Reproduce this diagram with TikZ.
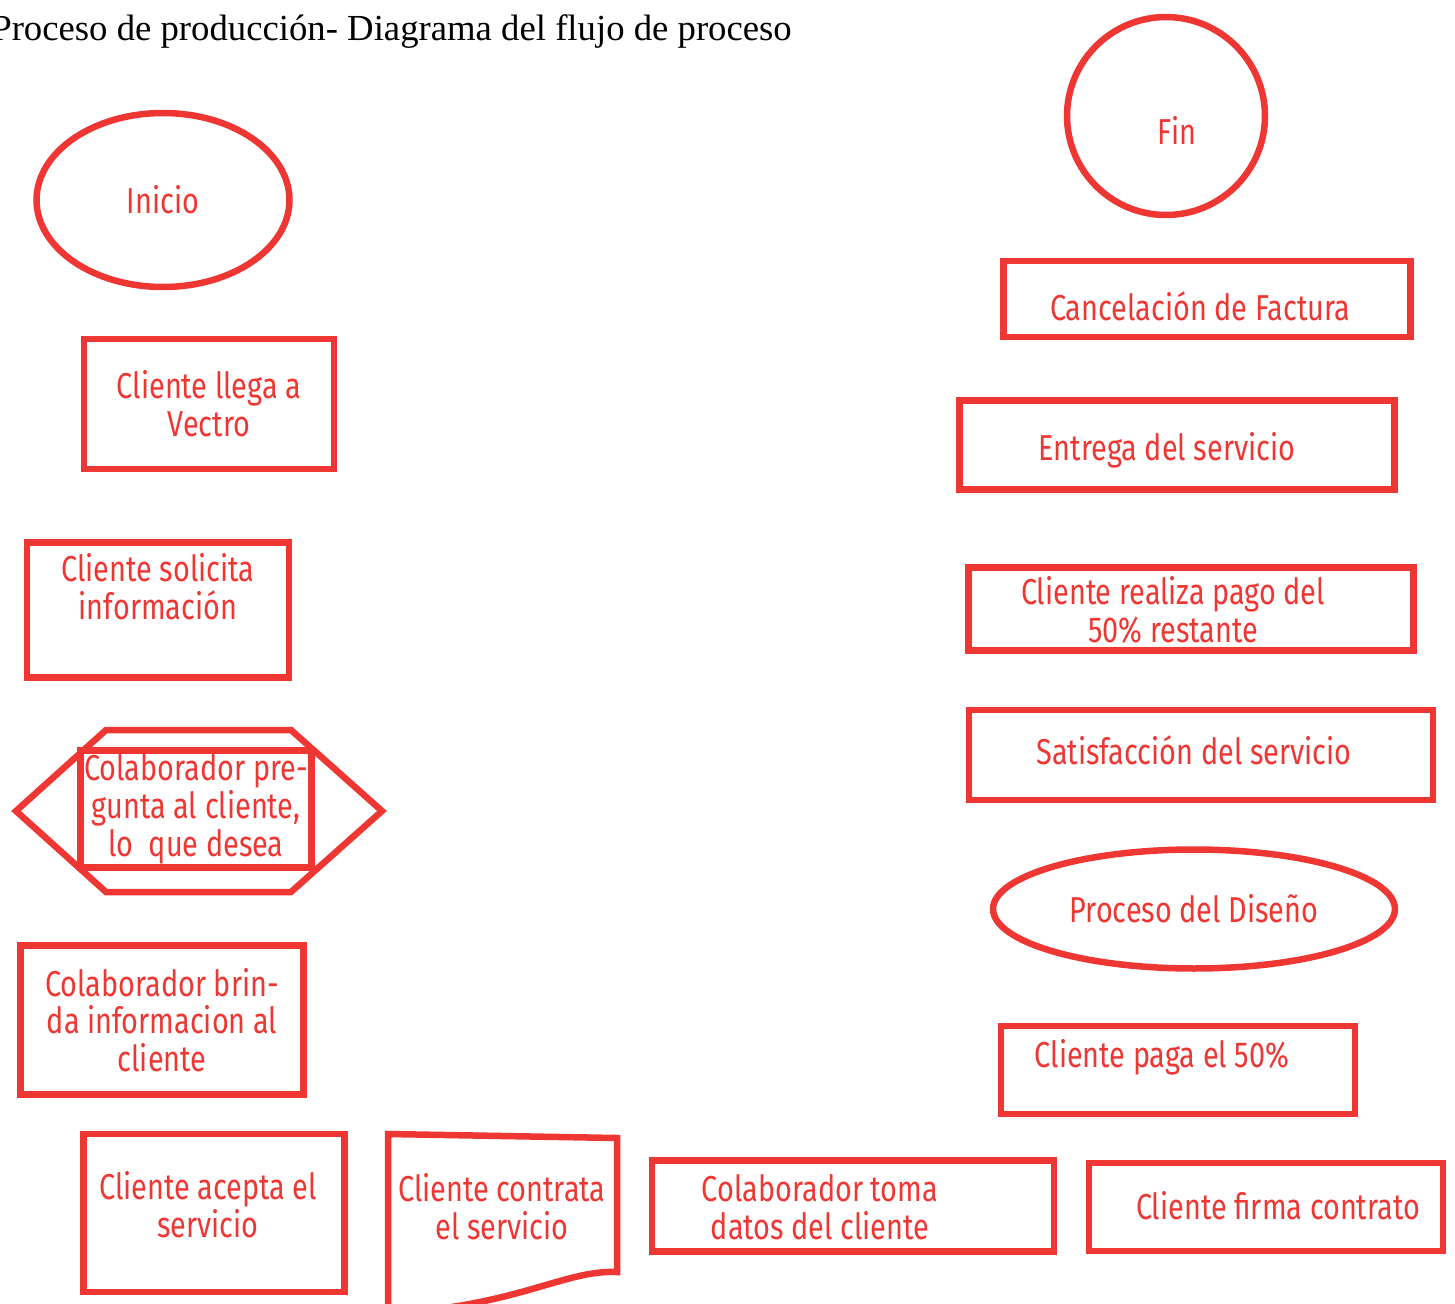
\documentclass[tikz,border=0pt]{standalone}
\usepackage{fontspec}
\setmainfont{Liberation Serif}
\newfontfamily\handfont[FakeStretch=0.8]{Fira Sans}
\usetikzlibrary{shapes.geometric,positioning}
\definecolor{vred}{RGB}{238,54,50}

\begin{document}
\begin{tikzpicture}[x=0.02cm,y=-0.02cm,
  box/.style={draw=vred, line width=0.13cm, align=center, text=vred, inner sep=2pt,
    font=\handfont\fontsize{20.5}{21.5}\selectfont},
  txt/.style={align=center, text=vred, inner sep=0pt,
    font=\handfont\fontsize{20.5}{21.5}\selectfont}]
  \useasboundingbox (0,0) rectangle (1455,1303);
  % Title
  \node[anchor=base west, inner sep=0pt, font=\fontsize{20.9}{24}\selectfont] (titulo) at (-9,40) {Proceso de producción- Diagrama del flujo de proceso};
  % Left column
  \node[box, ellipse, minimum width=5.06cm, minimum height=3.48cm] (inicio) at (163,200) {Inicio};
  \node[box, minimum width=5.0cm, minimum height=2.6cm] (llega) at (209,404) {Cliente llega a\\Vectro};
  \node[box, minimum width=5.24cm, minimum height=2.7cm] (solicita) at (158,610) {};
  \node[txt] (solicita-t) at (158,587) {Cliente solicita\\información};
  \draw[vred, line width=0.13cm, line join=miter] (106,730) -- (291,730) -- (382,811) -- (291,892) -- (106,892) -- (16,811) -- cycle;
  \node[box, minimum width=4.52cm, minimum height=2.32cm] (pregunta) at (196,809) {Colaborador pre-\\gunta al cliente,\\lo\ \ que desea};
  \node[box, minimum width=5.66cm, minimum height=2.98cm] (brinda) at (162,1020) {Colaborador brin-\\da informacion al\\cliente};
  % Bottom row
  \node[box, minimum width=5.22cm, minimum height=3.16cm] (acepta) at (214,1213) {};
  \node[txt] (acepta-t) at (208,1205) {Cliente acepta el\\servicio};
  \draw[vred, line width=0.13cm] (388,1310) -- (388,1134) -- (617,1138) -- (617,1272)
    .. controls (570,1270) and (530,1298) .. (430,1310) -- cycle;
  \node[txt] (contrata) at (502,1207) {Cliente contrata\\el servicio};
  \node[box, minimum width=8.04cm, minimum height=1.82cm] (toma) at (853,1206) {};
  \node[txt] (toma-t) at (820,1207) {Colaborador toma\\datos del cliente};
  \node[box, minimum width=7.08cm, minimum height=1.76cm] (firma) at (1266,1207) {};
  \node[txt] (firma-t) at (1278,1206) {Cliente firma contrato};
  % Right column
  \node[box, minimum width=7.08cm, minimum height=1.76cm] (paga) at (1178,1070) {};
  \node[txt] (paga-t) at (1162,1057) {Cliente paga el 50\%};
  \node[box, ellipse, minimum width=8.04cm, minimum height=2.38cm] (diseno) at (1194,909) {Proceso del Diseño};
  \node[box, minimum width=9.28cm, minimum height=1.8cm] (satisf) at (1201,755) {};
  \node[txt] (satisf-t) at (1194,750) {Satisfacción del servicio};
  \node[box, minimum width=8.9cm, minimum height=1.66cm] (realiza) at (1191,609) {};
  \node[txt] (realiza-t) at (1173,610) {Cliente realiza pago del\\50\% restante};
  \node[box, minimum width=8.7cm, minimum height=1.78cm] (entrega) at (1177,445) {};
  \node[txt] (entrega-t) at (1167,450) {Entrega del servicio};
  \node[box, minimum width=8.14cm, minimum height=1.52cm] (cancel) at (1207,299) {};
  \node[txt] (cancel-t) at (1200,306) {Cancelación de Factura};
  \node[box, circle, minimum size=3.96cm] (fin) at (1166,116) {};
  \node[txt] (fin-t) at (1177,130) {Fin};
\end{tikzpicture}
\end{document}
